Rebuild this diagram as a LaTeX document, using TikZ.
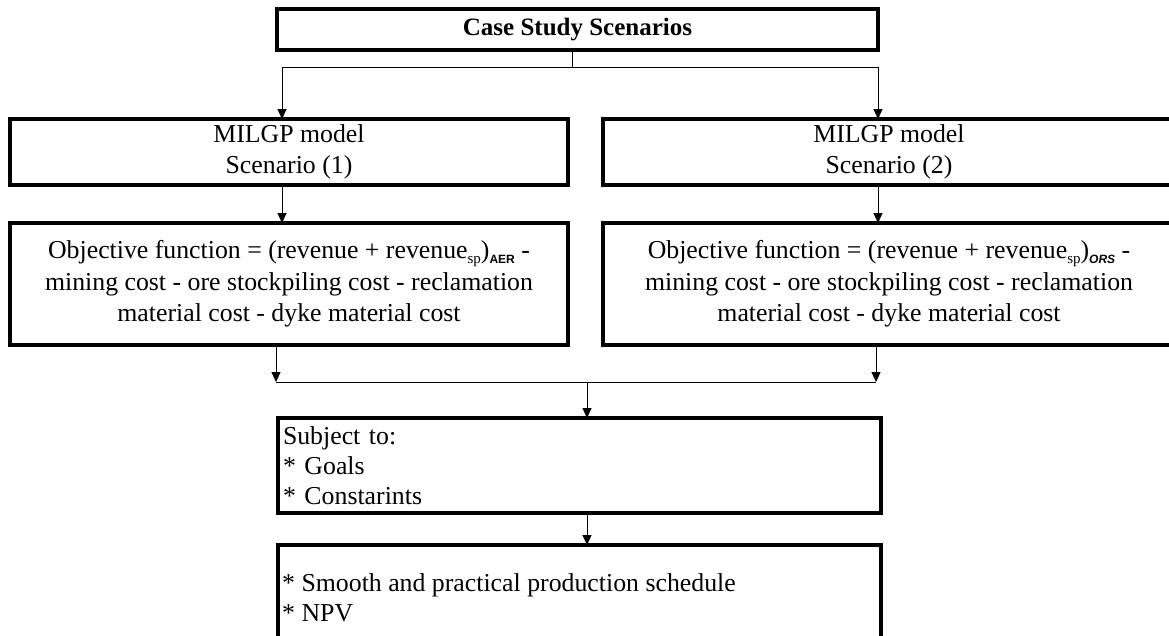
\documentclass[tikz,border=0pt]{standalone}
\usepackage{fontspec}
\setmainfont{Liberation Serif}
\newfontfamily\subsans{Liberation Sans}
\usetikzlibrary{arrows.meta}
\newcommand{\sbs}[1]{\raisebox{-5pt}{\fontsize{15}{15}\selectfont #1}}
\newcommand{\sbb}[1]{\raisebox{-5pt}{\subsans\bfseries\fontsize{12}{12}\selectfont #1}}
\tikzset{
  box/.style={draw, line width=3.2pt, rectangle, inner sep=0pt, outer sep=0pt,
    font=\fontsize{25.8}{31.5}\selectfont, align=center},
  lbox/.style={draw, line width=3.2pt, rectangle, inner xsep=5pt, inner ysep=0pt, outer sep=0pt,
    font=\fontsize{25.8}{30}\selectfont, align=left},
  conn/.style={line width=1pt},
  arr/.style={line width=1pt, -{Triangle[length=10pt,width=9pt]}},
}
\begin{document}
\begin{tikzpicture}[x=1pt,y=-1pt]
\useasboundingbox (0,0) rectangle (1169,635);
\clip (0,0) rectangle (1169,635);
\fill[white] (0,0) rectangle (1169,635);
% boxes
\node[box, font=\fontsize{25}{31}\selectfont, minimum width=601pt, minimum height=41pt] (top) at (577.5,29.5) {\bfseries Case Study Scenarios};
\node[box, minimum width=558pt, minimum height=66pt] (m1) at (289,152) {MILGP model\\Scenario (1)};
\node[box, minimum width=572pt, minimum height=66pt] (m2) at (889,152) {MILGP model\\Scenario (2)};
\node[box, minimum width=558pt, minimum height=122pt] (o1) at (289,284)
  {Objective function = (revenue + revenue\sbs{sp})\sbb{AER} -\\mining cost - ore stockpiling cost - reclamation\\material cost - dyke material cost};
\node[box, minimum width=572pt, minimum height=122pt] (o2) at (889,284)
  {Objective function = (revenue + revenue\sbs{sp})\sbb{\itshape ORS} -\\mining cost - ore stockpiling cost - reclamation\\material cost - dyke material cost};
\node[lbox, minimum width=603pt, minimum height=95pt, text width=593pt] (s) at (579.5,465.5)
  {Subject to:\\\relax{*} Goals\\\relax{*} Constarints};
\node[draw, line width=3.2pt, rectangle, outer sep=0pt, minimum width=603pt, minimum height=135pt] (b) at (579.5,612.5) {};
\node[anchor=west, inner sep=0pt, font=\fontsize{25.8}{30}\selectfont, align=left] (btxt) at (282,598)
  {{*} Smooth and practical production schedule\\\relax{*} NPV};
% junctions
\coordinate (j0) at (572,67);
\coordinate (jl) at (282,67);
\coordinate (jr) at (878,67);
\coordinate (kl) at (276,382);
\coordinate (kr) at (876,382);
\coordinate (kc) at (587,382);
% connectors
\draw[conn] (top.south -| j0) -- (j0);
\draw[conn] (jl) -- (jr);
\draw[arr] (jl) -- (jl |- m1.north);
\draw[arr] (jr) -- (jr |- m2.north);
\draw[arr] (m1.south -| jl) -- (o1.north -| jl);
\draw[arr] (m2.south -| jr) -- (o2.north -| jr);
\draw[arr] (o1.south -| kl) -- (kl);
\draw[arr] (o2.south -| kr) -- (kr);
\draw[conn] (kl) -- (kr);
\draw[arr] (kc) -- (s.north -| kc);
\draw[arr] (s.south -| kc) -- (b.north -| kc);
\end{tikzpicture}
\end{document}
